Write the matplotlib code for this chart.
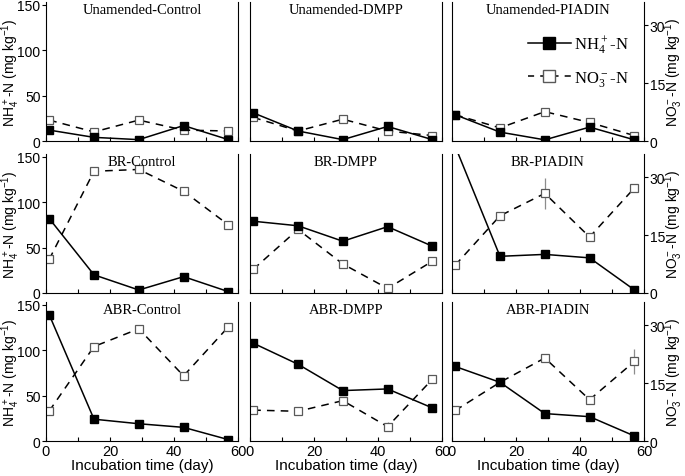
import matplotlib
matplotlib.use("Agg")
import matplotlib.pyplot as plt
from matplotlib.lines import Line2D

plt.rcParams['font.family'] = ['Liberation Sans', 'DejaVu Sans']

days = [1, 15, 29, 43, 57]
titles = [["Unamended-Control", "Unamended-DMPP", "Unamended-PIADIN"],
          ["BR-Control", "BR-DMPP", "BR-PIADIN"],
          ["ABR-Control", "ABR-DMPP", "ABR-PIADIN"]]

# NH4+-N (filled squares); columns 1-2 on left scale, column 3 on right scale
nh4 = [[[12, 4, 1.5, 17, 1.5], [31, 11, 1.5, 16, 1.5], [6.8, 2.3, 0.3, 3.6, 0.3]],
       [[82, 20, 3.3, 18, 1.5], [79, 74, 57, 73, 51.5], [38, 9.5, 10, 9.1, 0.8]],
       [[139, 24, 19, 15, 1.5], [107.7, 84.5, 55.5, 57.3, 36.4], [19.3, 15.2, 7.1, 6.3, 1.3]]]
# NO3--N (open squares)
no3 = [[[23, 10, 23, 12, 11], [26, 11, 24, 11, 6], [6.8, 3.4, 7.6, 4.8, 1.4]],
       [[37, 134, 136, 112, 75], [26, 70, 32, 5, 35], [7.2, 20, 25.8, 14.5, 27.2]],
       [[33, 104, 123.5, 71.7, 125.7], [34, 32.7, 44.4, 15.8, 68], [7.9, 15.2, 21.5, 10.7, 20.6]]]
nh4_err = [[[0] * 5, [0] * 5, [0] * 5],
           [[0] * 5, [0] * 5, [0, 0, 0.8, 0, 0]],
           [[0] * 5, [0] * 5, [0, 0, 0.6, 0, 0]]]
no3_err = [[[0] * 5, [0, 0, 2, 0, 0], [0] * 5],
           [[0] * 5, [0] * 5, [0, 0, 4, 0, 0]],
           [[0] * 5, [0, 0, 4, 5, 0], [0.5, 0, 0, 0, 3.2]]]

W, H = 685, 477
lefts = [46, 250, 452]
bottoms = [142, 294, 442]
aw, ah = 192, 139
left_max = 153
right_max = 36

fig = plt.figure(figsize=(W / 100, H / 100), dpi=100)
serif = ['Liberation Serif', 'DejaVu Serif']

for r in range(3):
    for c in range(3):
        ax = fig.add_axes([lefts[c] / W, 1 - bottoms[r] / H, aw / W, ah / H])
        ax.errorbar(days, no3[r][c], yerr=no3_err[r][c], color='k', ls=(0, (5, 4)), lw=1.1,
                    marker='s', ms=5.5, mfc='white', mec='0.35', mew=0.9,
                    ecolor='0.55', elinewidth=0.9, capsize=0, zorder=2)
        ax.errorbar(days, nh4[r][c], yerr=nh4_err[r][c], color='k', ls='-', lw=1.1,
                    marker='s', ms=5.5, mfc='k', mec='k',
                    ecolor='0.55', elinewidth=0.9, capsize=0, zorder=3)
        ax.set_xlim(0, 60)
        ax.set_xticks([0, 20, 40, 60])
        ax.set_xticks([10, 30, 50], minor=True)
        ax.tick_params(axis='x', which='both', direction='in', length=3, width=0.8,
                       labelsize=10.5, pad=2, labelbottom=(r == 2))
        ax.spines['top'].set_visible(False)
        for s in ['left', 'right', 'bottom']:
            ax.spines[s].set_linewidth(0.8)
        if c == 2:
            ax.set_ylim(0, right_max)
            ax.yaxis.tick_right()
            ax.set_yticks([0, 15, 30])
            ax.tick_params(axis='y', direction='out', length=3, width=0.8, labelsize=10, pad=1)
        else:
            ax.set_ylim(0, left_max)
            ax.set_yticks([0, 50, 100, 150])
            if c == 0:
                ax.tick_params(axis='y', direction='out', length=3, width=0.8, labelsize=10, pad=1)
            else:
                ax.tick_params(axis='y', left=False, labelleft=False)
        ax.text(0.5, 0.995, titles[r][c], transform=ax.transAxes, ha='center', va='top',
                fontsize=10.5, family=serif)
        if r == 2:
            ax.set_xlabel("Incubation time (day)", fontsize=11, labelpad=0)
        if r == 0 and c == 2:
            handles = [Line2D([], [], color='k', lw=1.1, marker='s', ms=9, mfc='k', mec='k'),
                       Line2D([], [], color='k', lw=1.1, ls=(0, (4, 4)), marker='s', ms=9,
                              mfc='white', mec='0.35')]
            ax.legend(handles, [r'$\mathregular{NH_4^+}$-N', r'$\mathregular{NO_3^-}$-N'],
                      loc='upper right', bbox_to_anchor=(1.0, 0.88), frameon=False,
                      handlelength=2.6, handletextpad=0.2, labelspacing=0.8,
                      prop={'family': serif, 'size': 12})

    ymid = 1 - (bottoms[r] - ah / 2) / H
    fig.text(10.5 / W, ymid, r'$\mathregular{NH_4^+}$-N (mg kg$\mathregular{^{-1}}$)',
             rotation=90, ha='center', va='center', fontsize=10)
    fig.text(674 / W, ymid, r'$\mathregular{NO_3^-}$-N (mg kg$\mathregular{^{-1}}$)',
             rotation=90, ha='center', va='center', fontsize=10)

fig.savefig("out.png", dpi=100)
